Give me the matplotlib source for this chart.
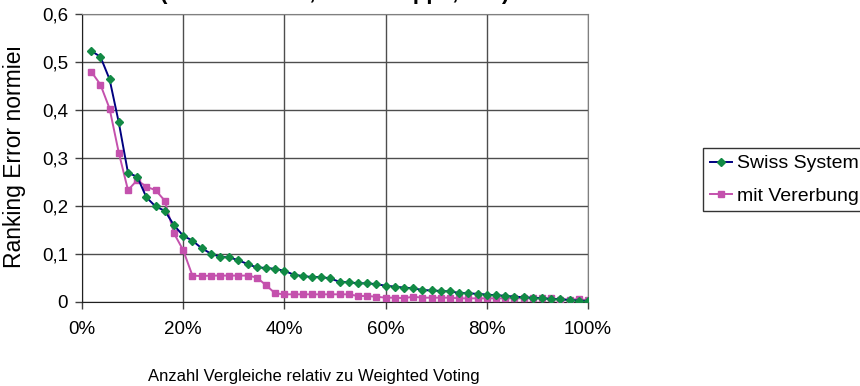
import numpy as np
import matplotlib.pyplot as plt
from matplotlib.ticker import FuncFormatter
from matplotlib.transforms import Bbox

plt.rcParams['font.family'] = ['Liberation Sans', 'DejaVu Sans']

# Anteil Vergleiche in % (55 Messpunkte)
anteil = [1.82, 3.64, 5.45, 7.27, 9.09, 10.91, 12.73, 14.55, 16.36, 18.18,
          20.0, 21.82, 23.64, 25.45, 27.27, 29.09, 30.91, 32.73, 34.55, 36.36,
          38.18, 40.0, 41.82, 43.64, 45.45, 47.27, 49.09, 50.91, 52.73, 54.55,
          56.36, 58.18, 60.0, 61.82, 63.64, 65.45, 67.27, 69.09, 70.91, 72.73,
          74.55, 76.36, 78.18, 80.0, 81.82, 83.64, 85.45, 87.27, 89.09, 90.91,
          92.73, 94.55, 96.36, 98.18, 100.0]

swiss = [0.523, 0.511, 0.464, 0.374, 0.269, 0.261, 0.218, 0.199, 0.190, 0.160,
         0.138, 0.128, 0.112, 0.101, 0.094, 0.093, 0.087, 0.079, 0.072, 0.071,
         0.069, 0.065, 0.057, 0.054, 0.052, 0.052, 0.049, 0.042, 0.041, 0.039,
         0.039, 0.037, 0.034, 0.032, 0.030, 0.0285, 0.025, 0.024, 0.023, 0.022,
         0.019, 0.018, 0.017, 0.0155, 0.014, 0.013, 0.011, 0.010, 0.009, 0.008,
         0.006, 0.006, 0.004, 0.003, 0.002]

vererbung = [0.480, 0.453, 0.403, 0.311, 0.233, 0.254, 0.240, 0.233, 0.211, 0.143,
             0.108, 0.055, 0.054, 0.055, 0.055, 0.055, 0.055, 0.055, 0.051, 0.035,
             0.018, 0.016, 0.016, 0.016, 0.016, 0.016, 0.016, 0.016, 0.016, 0.0125,
             0.0125, 0.011, 0.009, 0.009, 0.008, 0.011, 0.009, 0.009, 0.009, 0.009,
             0.0076, 0.0076, 0.0076, 0.0076, 0.0076, 0.0076, 0.0076, 0.0076, 0.0076, 0.0076,
             0.0076, 0.005, 0.005, 0.006, 0.0035]

fig = plt.figure(figsize=(8.6, 3.86), dpi=100)
ax = fig.add_axes([82/860, 1-302/386, (588-82)/860, (302-14)/386])

ax.plot(anteil, swiss, '-', color='#000080', lw=1.4, marker='D', ms=4.5,
        mfc='#128a45', mec='#128a45', label='Swiss System', zorder=4)
ax.plot(anteil, vererbung, '-', color='#c451ad', lw=1.4, marker='s', ms=5,
        mfc='#c451ad', mec='#c451ad', label='mit Vererbung', zorder=3)

ax.set_xlim(0, 100)
ax.set_ylim(0, 0.6)
ax.set_xticks([0, 20, 40, 60, 80, 100])
ax.set_yticks(np.arange(0, 0.61, 0.1))
ax.xaxis.set_major_formatter(FuncFormatter(lambda v, p: '%d%%' % round(v)))
ax.yaxis.set_major_formatter(FuncFormatter(lambda v, p: '0' if abs(v) < 1e-9 else ('%.1f' % v).replace('.', ',')))
ax.tick_params(labelsize=13.5, length=5, width=1, color='#404040', direction='out', pad=5)
ax.tick_params(axis='x', pad=9)
ax.grid(True, color='#4d4d4d', lw=1)
ax.set_axisbelow(True)
for s in ['top', 'right']:
    ax.spines[s].set_color('#808080')
for s in ['left', 'bottom']:
    ax.spines[s].set_color('#202020')

ax.set_xlabel('Anzahl Vergleiche relativ zu Weighted Voting', fontsize=12)
ax.xaxis.set_label_coords((314-82)/506, (302-369)/288)

# y-Beschriftung, oben abgeschnitten
yl = fig.text(15/860, 1-268/386, 'Ranking Error normiert', rotation=90,
              ha='center', va='bottom', fontsize=16.5)
yl.set_clip_box(Bbox.from_extents(0, 0, 860, 386-48))
yl.set_clip_on(True)

# Titel liegt größtenteils oberhalb des Bildes
fig.text(335/860, 1+1/386, '(100 Elemente, 10er Gruppe, k=5)',
         ha='center', va='baseline', fontsize=16, fontweight='bold')

# Legende ragt rechts über den Rand hinaus
leg = fig.legend(loc='upper left', bbox_to_anchor=(703/860, 1-148/386, 170/860, 0),
                 mode='expand', fontsize=14, frameon=True, fancybox=False,
                 handlelength=1.15, handletextpad=0.25, borderpad=0.35,
                 labelspacing=0.75, borderaxespad=0)
leg.get_frame().set_edgecolor('black')
leg.get_frame().set_linewidth(1)

fig.savefig('out.png', dpi=100)
